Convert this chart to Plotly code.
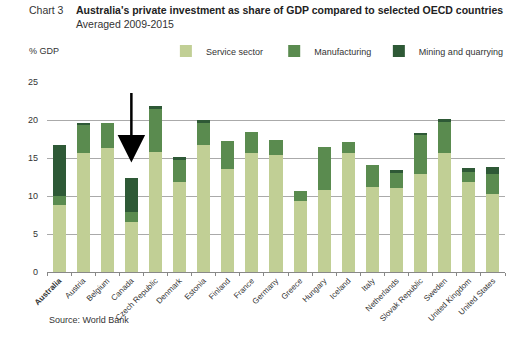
import plotly.graph_objects as go

countries = ["Australia", "Austria", "Belgium", "Canada", "Czech Republic", "Denmark",
             "Estonia", "Finland", "France", "Germany", "Greece", "Hungary", "Iceland",
             "Italy", "Netherlands", "Slovak Republic", "Sweden", "United Kingdom",
             "United States"]
service = [8.8, 15.6, 16.3, 6.6, 15.8, 11.9, 16.7, 13.6, 15.6, 15.4, 9.4, 10.8, 15.7,
           11.2, 11.0, 12.95, 15.7, 11.9, 10.25]
manufacturing = [1.15, 3.8, 3.25, 1.25, 5.7, 2.8, 2.9, 3.6, 2.8, 1.95, 1.25, 5.7, 1.35,
                 2.9, 2.0, 5.1, 4.1, 1.3, 2.6]
mining = [6.75, 0.2, 0.0, 4.55, 0.3, 0.4, 0.35, 0.0, 0.0, 0.0, 0.0, 0.0, 0.0,
          0.0, 0.4, 0.15, 0.3, 0.55, 0.95]
y_ticks = [0, 5, 10, 15, 20, 25]

tick_text = ["<b>" + c + "</b>" if c == "Australia" else c for c in countries]

FONT = "Liberation Sans, Arial, sans-serif"
fig = go.Figure()
series = [("Service sector", service, "#c1cf95", "legend", 0.259),
          ("Manufacturing", manufacturing, "#5a8b4f", "legend2", 0.495),
          ("Mining and quarrying", mining, "#2e5936", "legend3", 0.723)]
legend_layout = {}
for name, vals, col, lg, lx in series:
    fig.add_trace(go.Bar(x=countries, y=vals, name=name, marker_color=col,
                         marker_line_width=0, legend=lg))
    legend_layout[lg] = dict(orientation="h", x=lx, xanchor="left", y=1.163,
                             yanchor="middle", font=dict(size=9, color="#333"),
                             itemwidth=30, bgcolor="rgba(0,0,0,0)")

fig.update_layout(
    barmode="stack", bargap=0.46,
    width=520, height=350,
    margin=dict(l=47, r=14, t=82, b=78),
    paper_bgcolor="white", plot_bgcolor="white",
    font=dict(family=FONT, size=8, color="#333"),
    showlegend=True,
    xaxis=dict(tickmode="array", tickvals=countries, ticktext=tick_text, tickangle=-45,
               tickson="boundaries", ticks="outside", ticklen=3, tickcolor="#888",
               showline=True, linecolor="#888", linewidth=1, showgrid=False,
               tickfont=dict(size=8, color="#333")),
    yaxis=dict(range=[0, 25], tickvals=y_ticks, showgrid=True, gridcolor="#aaa",
               gridwidth=1, zeroline=False, showline=False, ticks="",
               tickfont=dict(size=9, color="#333"), ticklabelstandoff=8),
    **legend_layout,
)

fig.add_annotation(x="Canada", y=14.4, xref="x", yref="y", ax=0, ay=-71,
                   showarrow=True, arrowhead=2, arrowsize=2.2, arrowwidth=2.5,
                   arrowcolor="black", text="")

# Titles and texts
fig.add_annotation(text="Chart 3", xref="paper", yref="paper", x=-0.043, y=1.379,
                   xanchor="left", yanchor="middle", showarrow=False,
                   font=dict(size=10.5, color="#333"))
fig.add_annotation(text="<b>Australia's private investment as share of GDP compared to selected OECD countries</b>",
                   xref="paper", yref="paper", x=0.06, y=1.379, xanchor="left",
                   yanchor="middle", showarrow=False, font=dict(size=10.5, color="#222"))
fig.add_annotation(text="Averaged 2009-2015", xref="paper", yref="paper", x=0.06, y=1.305,
                   xanchor="left", yanchor="middle", showarrow=False,
                   font=dict(size=10.5, color="#333"))
fig.add_annotation(text="% GDP", xref="paper", yref="paper", x=-0.043, y=1.163,
                   xanchor="left", yanchor="middle", showarrow=False,
                   font=dict(size=9, color="#333"))
fig.add_annotation(text="Source: World Bank", xref="paper", yref="paper", x=0.0, y=-0.255,
                   xanchor="left", yanchor="middle", showarrow=False,
                   font=dict(size=9, color="#333"))

fig.write_html("out.html")
